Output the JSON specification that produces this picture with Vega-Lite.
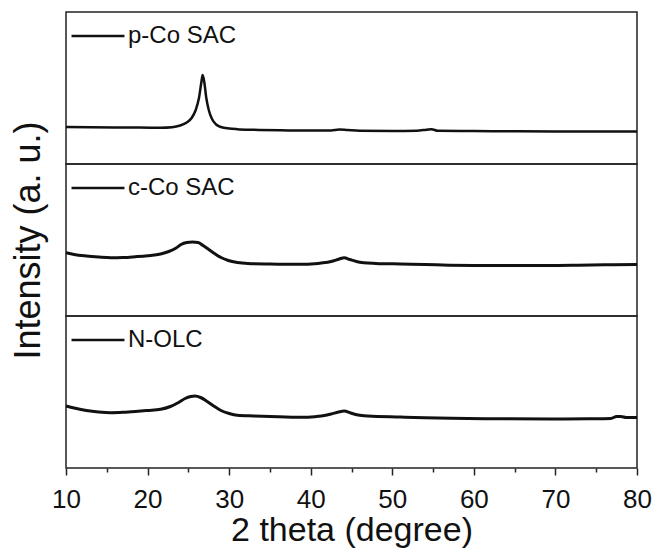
{
  "$schema": "https://vega.github.io/schema/vega-lite/v6.json",
  "padding": {"left": 9, "top": 7, "right": 5, "bottom": 0},
  "config": {
    "font": "Liberation Sans",
    "view": {"stroke": "#222", "strokeWidth": 1.5},
    "legend": {
      "orient": "none", "legendX": 4, "legendY": -4, "title": null,
      "symbolType": "stroke", "symbolSize": 2800, "symbolStrokeWidth": 2.5,
      "labelFontSize": 24, "labelColor": "#111", "labelOffset": 2, "padding": 0
    }
  },
  "datasets": {
    "xrd": [
      {"s": "p-Co SAC", "x": 10, "y": 37}, {"s": "p-Co SAC", "x": 13, "y": 36.8}, {"s": "p-Co SAC", "x": 16, "y": 36.5},
      {"s": "p-Co SAC", "x": 19, "y": 36.4}, {"s": "p-Co SAC", "x": 21.6, "y": 36.3}, {"s": "p-Co SAC", "x": 23, "y": 36.8},
      {"s": "p-Co SAC", "x": 24, "y": 38.5}, {"s": "p-Co SAC", "x": 24.8, "y": 41.5}, {"s": "p-Co SAC", "x": 25.4, "y": 46},
      {"s": "p-Co SAC", "x": 25.9, "y": 54}, {"s": "p-Co SAC", "x": 26.3, "y": 66}, {"s": "p-Co SAC", "x": 26.6, "y": 82},
      {"s": "p-Co SAC", "x": 26.75, "y": 89}, {"s": "p-Co SAC", "x": 26.95, "y": 82}, {"s": "p-Co SAC", "x": 27.2, "y": 66},
      {"s": "p-Co SAC", "x": 27.5, "y": 54}, {"s": "p-Co SAC", "x": 27.9, "y": 45}, {"s": "p-Co SAC", "x": 28.4, "y": 39.5},
      {"s": "p-Co SAC", "x": 29, "y": 37}, {"s": "p-Co SAC", "x": 30, "y": 35.5}, {"s": "p-Co SAC", "x": 31, "y": 34.8},
      {"s": "p-Co SAC", "x": 33, "y": 34.2}, {"s": "p-Co SAC", "x": 36.4, "y": 33.7}, {"s": "p-Co SAC", "x": 40, "y": 33.5},
      {"s": "p-Co SAC", "x": 42.5, "y": 33.6}, {"s": "p-Co SAC", "x": 43.5, "y": 34.5}, {"s": "p-Co SAC", "x": 44.5, "y": 34},
      {"s": "p-Co SAC", "x": 46, "y": 33.3}, {"s": "p-Co SAC", "x": 50, "y": 33}, {"s": "p-Co SAC", "x": 53, "y": 33.3},
      {"s": "p-Co SAC", "x": 54.2, "y": 34.3}, {"s": "p-Co SAC", "x": 54.8, "y": 34.8}, {"s": "p-Co SAC", "x": 55.6, "y": 33.2},
      {"s": "p-Co SAC", "x": 60, "y": 32.9}, {"s": "p-Co SAC", "x": 65, "y": 32.7}, {"s": "p-Co SAC", "x": 70, "y": 32.6},
      {"s": "p-Co SAC", "x": 75, "y": 32.5}, {"s": "p-Co SAC", "x": 80, "y": 32.5},

      {"s": "c-Co SAC", "x": 10, "y": 63.3}, {"s": "c-Co SAC", "x": 11, "y": 61.5}, {"s": "c-Co SAC", "x": 12.5, "y": 60},
      {"s": "c-Co SAC", "x": 14, "y": 59}, {"s": "c-Co SAC", "x": 15.5, "y": 58.3}, {"s": "c-Co SAC", "x": 17, "y": 58.5},
      {"s": "c-Co SAC", "x": 18.5, "y": 59.3}, {"s": "c-Co SAC", "x": 20, "y": 60.3}, {"s": "c-Co SAC", "x": 21.6, "y": 62},
      {"s": "c-Co SAC", "x": 22.6, "y": 64.5}, {"s": "c-Co SAC", "x": 23.5, "y": 68}, {"s": "c-Co SAC", "x": 24.1, "y": 71.5},
      {"s": "c-Co SAC", "x": 24.8, "y": 73.5}, {"s": "c-Co SAC", "x": 25.5, "y": 74}, {"s": "c-Co SAC", "x": 26.2, "y": 73.5},
      {"s": "c-Co SAC", "x": 26.8, "y": 70.5}, {"s": "c-Co SAC", "x": 27.5, "y": 66.5}, {"s": "c-Co SAC", "x": 28.3, "y": 62},
      {"s": "c-Co SAC", "x": 29, "y": 58.5}, {"s": "c-Co SAC", "x": 29.9, "y": 55.5}, {"s": "c-Co SAC", "x": 31, "y": 53.5},
      {"s": "c-Co SAC", "x": 32.3, "y": 52.5}, {"s": "c-Co SAC", "x": 35, "y": 52}, {"s": "c-Co SAC", "x": 38.8, "y": 51.7},
      {"s": "c-Co SAC", "x": 40.5, "y": 52.3}, {"s": "c-Co SAC", "x": 41.3, "y": 53}, {"s": "c-Co SAC", "x": 42.5, "y": 54.5},
      {"s": "c-Co SAC", "x": 43.5, "y": 57}, {"s": "c-Co SAC", "x": 44.1, "y": 58.3}, {"s": "c-Co SAC", "x": 44.8, "y": 56.5},
      {"s": "c-Co SAC", "x": 45.6, "y": 54.5}, {"s": "c-Co SAC", "x": 46.5, "y": 53.3}, {"s": "c-Co SAC", "x": 48, "y": 52.6},
      {"s": "c-Co SAC", "x": 51, "y": 52}, {"s": "c-Co SAC", "x": 54, "y": 51.5}, {"s": "c-Co SAC", "x": 57, "y": 50.8},
      {"s": "c-Co SAC", "x": 60, "y": 50.5}, {"s": "c-Co SAC", "x": 65, "y": 50.4}, {"s": "c-Co SAC", "x": 69.5, "y": 50.5},
      {"s": "c-Co SAC", "x": 72, "y": 50.7}, {"s": "c-Co SAC", "x": 74.4, "y": 51}, {"s": "c-Co SAC", "x": 77, "y": 51.3},
      {"s": "c-Co SAC", "x": 80, "y": 51.5},

      {"s": "N-OLC", "x": 10, "y": 62}, {"s": "N-OLC", "x": 11, "y": 60}, {"s": "N-OLC", "x": 12.5, "y": 57.5},
      {"s": "N-OLC", "x": 14, "y": 56}, {"s": "N-OLC", "x": 15.5, "y": 55.3}, {"s": "N-OLC", "x": 17, "y": 55.7},
      {"s": "N-OLC", "x": 18.5, "y": 56.5}, {"s": "N-OLC", "x": 20, "y": 57.5}, {"s": "N-OLC", "x": 21.6, "y": 58.7},
      {"s": "N-OLC", "x": 22.8, "y": 61.5}, {"s": "N-OLC", "x": 23.8, "y": 65.5}, {"s": "N-OLC", "x": 24.6, "y": 69.5},
      {"s": "N-OLC", "x": 25.3, "y": 71.5}, {"s": "N-OLC", "x": 25.8, "y": 72}, {"s": "N-OLC", "x": 26.5, "y": 70.5},
      {"s": "N-OLC", "x": 27.3, "y": 66.5}, {"s": "N-OLC", "x": 28.2, "y": 61.5}, {"s": "N-OLC", "x": 29, "y": 57.5},
      {"s": "N-OLC", "x": 30, "y": 54.5}, {"s": "N-OLC", "x": 31, "y": 52.7}, {"s": "N-OLC", "x": 33, "y": 52},
      {"s": "N-OLC", "x": 35, "y": 51.5}, {"s": "N-OLC", "x": 38.8, "y": 50.7}, {"s": "N-OLC", "x": 40.5, "y": 51.3},
      {"s": "N-OLC", "x": 41.3, "y": 52}, {"s": "N-OLC", "x": 42.5, "y": 54}, {"s": "N-OLC", "x": 43.4, "y": 56},
      {"s": "N-OLC", "x": 44.1, "y": 57}, {"s": "N-OLC", "x": 44.9, "y": 55}, {"s": "N-OLC", "x": 45.8, "y": 53},
      {"s": "N-OLC", "x": 47, "y": 52}, {"s": "N-OLC", "x": 51, "y": 51}, {"s": "N-OLC", "x": 54, "y": 50.3},
      {"s": "N-OLC", "x": 57.2, "y": 49.7}, {"s": "N-OLC", "x": 62, "y": 49.3}, {"s": "N-OLC", "x": 69.5, "y": 49},
      {"s": "N-OLC", "x": 74, "y": 49.2}, {"s": "N-OLC", "x": 76.8, "y": 49.5}, {"s": "N-OLC", "x": 77.5, "y": 51.5},
      {"s": "N-OLC", "x": 78, "y": 51.5}, {"s": "N-OLC", "x": 78.7, "y": 50.5}, {"s": "N-OLC", "x": 80, "y": 50.5}
    ]
  },
  "data": {"name": "xrd"},
  "spacing": 0,
  "bounds": "flush",
  "resolve": {"scale": {"x": "shared", "y": "independent", "stroke": "independent"}, "legend": {"stroke": "independent"}},
  "vconcat": [
    {
      "width": 571, "height": 152,
      "transform": [{"filter": "datum.s === 'p-Co SAC'"}],
      "mark": {"type": "line", "strokeWidth": 2.5, "interpolate": "monotone"},
      "encoding": {
        "x": {"field": "x", "type": "quantitative", "scale": {"domain": [10, 80], "nice": false}, "axis": null},
        "y": {"field": "y", "type": "quantitative", "scale": {"domain": [0, 152], "nice": false}, "axis": null},
        "stroke": {"field": "s", "type": "nominal", "scale": {"range": ["#111"]}}
      }
    },
    {
      "width": 571, "height": 152,
      "transform": [{"filter": "datum.s === 'c-Co SAC'"}],
      "mark": {"type": "line", "strokeWidth": 3, "interpolate": "monotone"},
      "encoding": {
        "x": {"field": "x", "type": "quantitative", "scale": {"domain": [10, 80], "nice": false}, "axis": null},
        "y": {"field": "y", "type": "quantitative", "scale": {"domain": [0, 152], "nice": false},
              "axis": {"title": "Intensity (a. u.)", "titleColor": "#111", "titleFontSize": 36, "titleFontWeight": "normal", "titlePadding": 19, "ticks": false, "labels": false, "domain": false, "grid": false}},
        "stroke": {"field": "s", "type": "nominal", "scale": {"range": ["#111"]}}
      }
    },
    {
      "width": 571, "height": 152,
      "transform": [{"filter": "datum.s === 'N-OLC'"}],
      "mark": {"type": "line", "strokeWidth": 3, "interpolate": "monotone"},
      "encoding": {
        "x": {"field": "x", "type": "quantitative", "scale": {"domain": [10, 80], "nice": false},
              "axis": {"title": "2 theta (degree)", "titleFontSize": 34, "titleFontWeight": "normal", "titleColor": "#111", "titlePadding": 1,
                       "values": [10, 15, 20, 25, 30, 35, 40, 45, 50, 55, 60, 65, 70, 75, 80],
                       "labelExpr": "datum.value % 10 === 0 ? datum.label : ''",
                       "tickSize": {"condition": {"test": "datum.value % 10 === 0", "value": 7}, "value": 4},
                       "tickColor": "#222", "tickWidth": 1.5, "domain": false, "grid": false,
                       "labelFontSize": 26, "labelColor": "#111", "labelPadding": 11, "labelFlush": false}},
        "y": {"field": "y", "type": "quantitative", "scale": {"domain": [0, 152], "nice": false}, "axis": null},
        "stroke": {"field": "s", "type": "nominal", "scale": {"range": ["#111"]}}
      }
    }
  ]
}
